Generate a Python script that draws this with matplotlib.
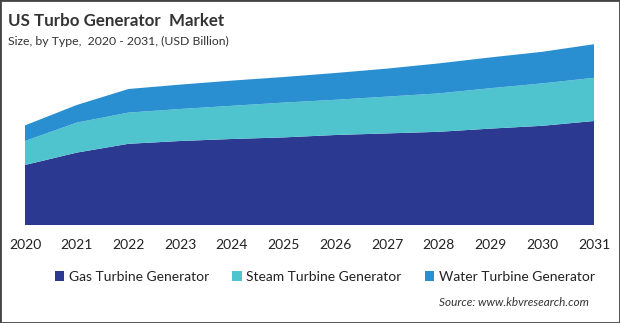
import matplotlib.pyplot as plt
from matplotlib.patches import Rectangle

# data (USD Billion)
years = list(range(2020, 2032))
gas = [1.50, 1.81, 2.03, 2.10, 2.15, 2.19, 2.25, 2.29, 2.33, 2.41, 2.48, 2.60]
steam = [0.60, 0.75, 0.78, 0.80, 0.83, 0.87, 0.88, 0.92, 0.96, 1.01, 1.06, 1.08]
water = [0.39, 0.44, 0.59, 0.61, 0.63, 0.64, 0.67, 0.70, 0.75, 0.77, 0.79, 0.84]
labels = ["Gas Turbine Generator", "Steam Turbine Generator", "Water Turbine Generator"]
colors = ["#2b3990", "#4fc4cf", "#2a8fd0"]

plt.rcParams['font.family'] = ['Lato', 'DejaVu Sans']

W, H = 620, 323
fig = plt.figure(figsize=(W / 100, H / 100), dpi=100)
ax = fig.add_axes([25 / W, 98 / H, 569 / W, 195 / H])

polys = ax.stackplot(years, gas, steam, water, colors=colors, labels=labels, linewidth=0)

ax.set_xlim(2020, 2031)
ax.set_ylim(0, 4.875)
ax.set_xticks(years)
ax.set_yticks([])
ax.tick_params(axis='x', length=0, pad=10, labelsize=10, labelcolor='#222222')
for s in ax.spines.values():
    s.set_visible(False)

fig.text(8 / W, 1 - 21 / H, "US Turbo Generator  Market", fontsize=12.2, fontweight='bold',
         color='#333333', va='center')
fig.text(8 / W, 1 - 41 / H, "Size, by Type,  2020 - 2031, (USD Billion)", fontsize=8.8,
         color='#333333', va='center')
fig.text(589 / W, 1 - 303 / H, "Source: www.kbvresearch.com", fontsize=8.5, style='italic',
         color='#333333', va='center', ha='right')

fig.legend(polys, labels, loc='center', bbox_to_anchor=(325 / W, 1 - 277 / H), ncol=3,
           frameon=False, fontsize=10, handlelength=0.65, handleheight=0.65,
           handletextpad=0.35, columnspacing=1.7, labelcolor='#222222')

fig.patches.append(Rectangle((0, 0), 1, 1, transform=fig.transFigure, fill=False,
                             edgecolor='#444444', linewidth=2))

fig.savefig("out.png", dpi=100)
